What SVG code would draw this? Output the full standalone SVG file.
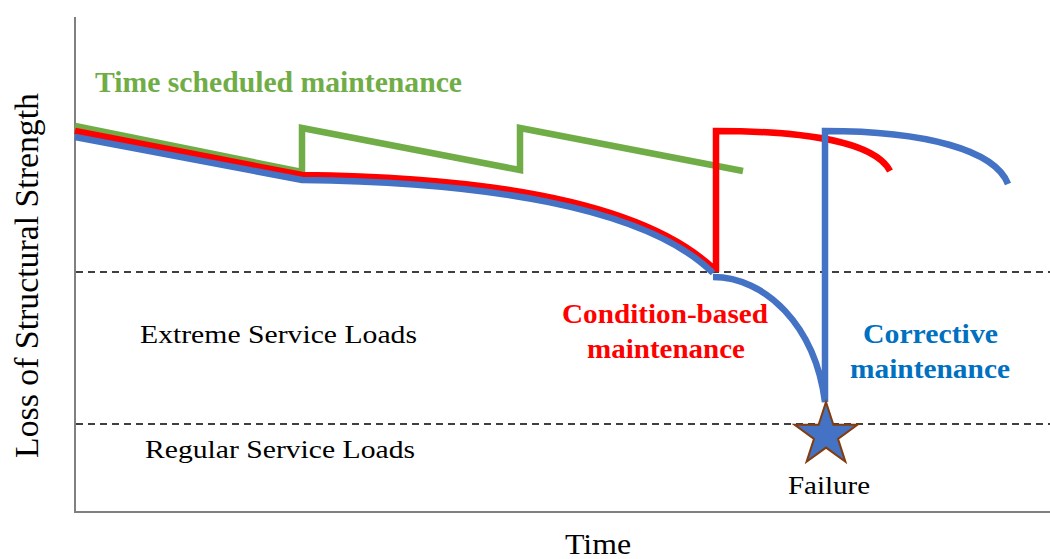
<svg xmlns="http://www.w3.org/2000/svg" width="1050" height="559" viewBox="0 0 1050 559">
  <style>
    .axis { stroke: #808080; stroke-width: 2; fill: none; }
    .limit { stroke: #000; stroke-width: 1.5; stroke-dasharray: 7 5; fill: none; }
    .curve { fill: none; stroke-width: 6.5; stroke-linejoin: miter; stroke-linecap: butt; }
    .green { stroke: #70AD47; }
    .red { stroke: #FF0000; }
    .blue { stroke: #4472C4; }
    .serif { font-family: "Liberation Serif", "Times New Roman", serif; }
    .bold { font-weight: bold; }
    .lbl { fill: #000; }
  </style>
  <rect width="1050" height="559" fill="#fff"/>

  <!-- axes -->
  <g id="axes">
    <line class="axis" x1="75" y1="17" x2="75" y2="513"/>
    <line class="axis" x1="74" y1="512" x2="1050" y2="512"/>
    <text class="serif lbl" x="598" y="554" font-size="29" text-anchor="middle" textLength="66" lengthAdjust="spacingAndGlyphs">Time</text>
    <text class="serif lbl" font-size="34" text-anchor="middle" transform="translate(38,275.5) rotate(-90)" textLength="365" lengthAdjust="spacingAndGlyphs">Loss of Structural Strength</text>
  </g>

  <!-- load thresholds -->
  <g id="thresholds">
    <line class="limit" x1="76" y1="272" x2="1050" y2="272"/>
    <line class="limit" x1="76" y1="424" x2="1050" y2="424"/>
    <text class="serif lbl" x="140" y="343" font-size="26" textLength="277" lengthAdjust="spacingAndGlyphs">Extreme Service Loads</text>
    <text class="serif lbl" x="145" y="458" font-size="26" textLength="270" lengthAdjust="spacingAndGlyphs">Regular Service Loads</text>
  </g>

  <!-- strength curves -->
  <g id="connectors">
    <path id="time-scheduled" class="curve green" d="M75,126 L302,172 L302,128 L520,170 L520,128 L743,171"/>
    <path id="condition-based" class="curve red" d="M75,131 L302,175 C480,177 640,200 713,268 M716,272 L716,131 C805,131 875,142 890,171"/>
    <path id="corrective" class="curve blue" d="M75,137 L302,180 C480,182 645,206 713,273 M713,277 C765,277 815,325 825,402 L825,131 C925,131 995,150 1008,184"/>
  </g>

  <!-- labels -->
  <g id="label-time-scheduled">
    <text class="serif bold" fill="#70AD47" x="95" y="92" font-size="29" textLength="367" lengthAdjust="spacingAndGlyphs">Time scheduled maintenance</text>
  </g>
  <g id="label-condition-based">
    <text class="serif bold" fill="#FF0000" x="562" y="323" font-size="27" textLength="206" lengthAdjust="spacingAndGlyphs">Condition-based</text>
    <text class="serif bold" fill="#FF0000" x="587" y="358" font-size="27" textLength="158" lengthAdjust="spacingAndGlyphs">maintenance</text>
  </g>
  <g id="label-corrective">
    <text class="serif bold" fill="#0070C0" x="863" y="343" font-size="27" textLength="135" lengthAdjust="spacingAndGlyphs">Corrective</text>
    <text class="serif bold" fill="#0070C0" x="850" y="378" font-size="27" textLength="160" lengthAdjust="spacingAndGlyphs">maintenance</text>
  </g>

  <!-- failure point -->
  <g id="failure">
    <polygon points="826,402 833.4,424.8 857.4,424.8 838,438.9 845.4,461.7 826,447.6 806.6,461.7 814,438.9 794.6,424.8 818.6,424.8" fill="#4472C4" stroke="#843C0C" stroke-width="2" stroke-linejoin="miter"/>
    <text class="serif lbl" x="829" y="494" font-size="25" text-anchor="middle" textLength="82" lengthAdjust="spacingAndGlyphs">Failure</text>
  </g>
</svg>
